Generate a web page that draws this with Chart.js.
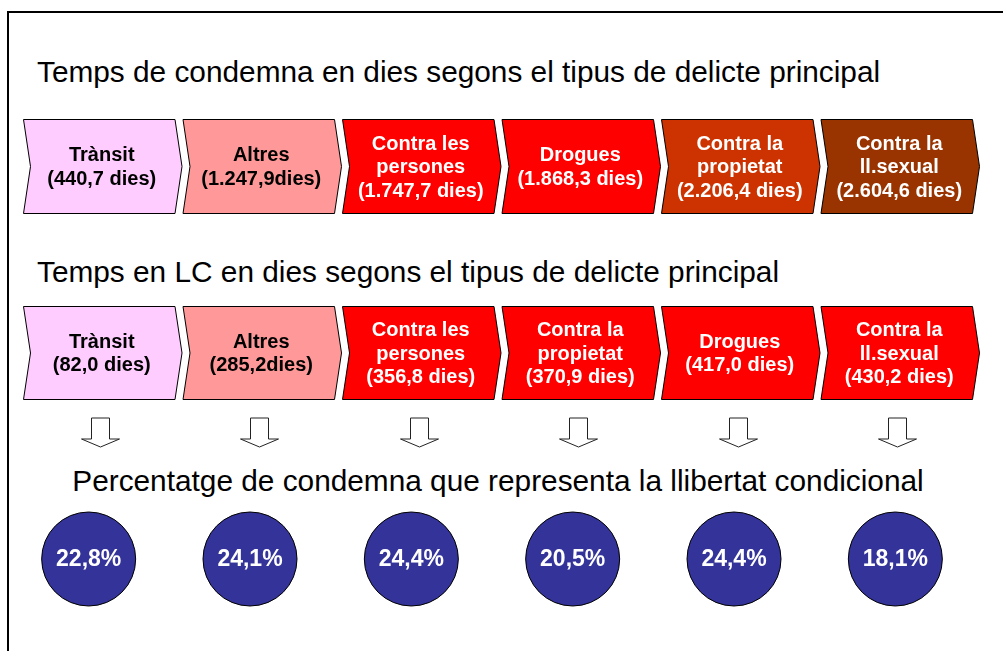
<!DOCTYPE html>
<html>
<head>
<meta charset="utf-8">
<script src="https://cdn.jsdelivr.net/npm/chart.js@4.4.1/dist/chart.umd.min.js"></script>
<style>
  html, body { margin: 0; padding: 0; background: #fff; }
  body { width: 1003px; height: 651px; position: relative; overflow: hidden; font-family: "Liberation Sans", Arial, sans-serif; }
  .frame { position: absolute; left: 7px; top: 11px; width: 1100px; height: 800px; border: 2px solid #000; }
  .title { position: absolute; font-size: 29.8px; line-height: 34px; color: #000; white-space: nowrap; }
  canvas { position: absolute; left: 0; }
</style>
</head>
<body>
<div class="frame"></div>
<div class="title" style="left:37px; top:55px;">Temps de condemna en dies segons el tipus de delicte principal</div>
<div class="title" style="left:37px; top:255px;">Temps en LC en dies segons el tipus de delicte principal</div>
<div class="title" style="left:0; width:996px; text-align:center; top:464px;">Percentatge de condemna que representa la llibertat condicional</div>
<canvas id="sentence" width="1003" height="105" style="top:114px"></canvas>
<canvas id="lc" width="1003" height="160" style="top:301px"></canvas>
<canvas id="pct" width="1003" height="110" style="top:504px"></canvas>
<script>
// sentence length (days) by main offence type
const sentenceCats = [['Trànsit'], ['Altres'], ['Contra les', 'persones'], ['Drogues'], ['Contra la', 'propietat'], ['Contra la', 'll.sexual']];
const sentenceDays = [440.7, 1247.9, 1747.7, 1868.3, 2206.4, 2604.6];
const sentenceUnit = [' dies', 'dies', ' dies', ' dies', ' dies', ' dies'];

// time on parole (LC) by main offence type
const lcCats = [['Trànsit'], ['Altres'], ['Contra les', 'persones'], ['Contra la', 'propietat'], ['Drogues'], ['Contra la', 'll.sexual']];
const lcDays = [82.0, 285.2, 356.8, 370.9, 417.0, 430.2];
const lcUnit = [' dies', 'dies', ' dies', ' dies', ' dies', ' dies'];

// share of the sentence spent on parole
const pctValues = [22.8, 24.1, 24.4, 20.5, 24.4, 18.1];

const sentenceColors = ['#FFCCFF', '#FF9999', '#FF0000', '#FF0000', '#CC3300', '#993300'];
const lcColors = ['#FFCCFF', '#FF9999', '#FF0000', '#FF0000', '#FF0000', '#FF0000'];
const textColors = ['#000', '#000', '#fff', '#fff', '#fff', '#fff'];

const FONT = '"Liberation Sans", Arial, sans-serif';

function fmt(v) {
  const parts = v.toFixed(1).split('.');
  return parts[0].replace(/\B(?=(\d{3})+(?!\d))/g, '.') + ',' + parts[1];
}

function chevronPlugin(colors, units, withArrows) {
  return {
    id: 'chevrons',
    afterDatasetsDraw(chart) {
      const ctx = chart.ctx;
      const area = chart.chartArea;
      const meta = chart.getDatasetMeta(0);
      const values = chart.data.datasets[0].data;
      const d = 7;
      const top = area.top + 0.5, bottom = area.bottom - 0.5, mid = (top + bottom) / 2;
      meta.data.forEach((bar, i) => {
        const L = bar.x - bar.width / 2 + 0.5;
        const tip = bar.x + bar.width / 2 - 0.5;
        const R = tip - d;
        ctx.save();
        ctx.beginPath();
        ctx.moveTo(L, top);
        ctx.lineTo(R, top);
        ctx.lineTo(tip, mid);
        ctx.lineTo(R, bottom);
        ctx.lineTo(L, bottom);
        ctx.lineTo(L + d, mid);
        ctx.closePath();
        ctx.fillStyle = colors[i];
        ctx.fill();
        ctx.lineWidth = 1;
        ctx.strokeStyle = '#000';
        ctx.stroke();

        const lines = chart.data.labels[i].concat(['(' + fmt(values[i]) + units[i] + ')']);
        const lh = 23.5;
        ctx.fillStyle = textColors[i];
        ctx.font = 'bold 20px ' + FONT;
        ctx.textAlign = 'center';
        ctx.textBaseline = 'middle';
        lines.forEach((t, k) => {
          ctx.fillText(t, bar.x - 1, mid + 1 + (k - (lines.length - 1) / 2) * lh);
        });

        if (withArrows) {
          const ax = Math.round(bar.x) - 2.5;
          const y0 = area.bottom + 18;
          ctx.beginPath();
          ctx.moveTo(ax - 9, y0);
          ctx.lineTo(ax + 9, y0);
          ctx.lineTo(ax + 9, y0 + 21);
          ctx.lineTo(ax + 19, y0 + 21);
          ctx.lineTo(ax, y0 + 29);
          ctx.lineTo(ax - 19, y0 + 21);
          ctx.lineTo(ax - 9, y0 + 21);
          ctx.closePath();
          ctx.fillStyle = '#fff';
          ctx.fill();
          ctx.strokeStyle = '#222';
          ctx.stroke();
        }
        ctx.restore();
      });
    }
  };
}

function rowChart(id, cats, days, colors, units, padBottom, withArrows) {
  return new Chart(document.getElementById(id), {
    type: 'bar',
    data: {
      labels: cats,
      datasets: [{
        data: days,
        backgroundColor: 'rgba(0,0,0,0)',
        categoryPercentage: 1,
        barPercentage: 1
      }]
    },
    options: {
      responsive: false,
      animation: false,
      devicePixelRatio: 1,
      layout: { padding: { left: 23, right: 23, top: 5, bottom: padBottom } },
      scales: {
        x: { display: false },
        y: { display: false, min: 0, max: Math.min(...days) }
      },
      plugins: { legend: { display: false }, tooltip: { enabled: false } }
    },
    plugins: [chevronPlugin(colors, units, withArrows)]
  });
}

rowChart('sentence', sentenceCats, sentenceDays, sentenceColors, sentenceUnit, 5, false);
rowChart('lc', lcCats, lcDays, lcColors, lcUnit, 61, true);

new Chart(document.getElementById('pct'), {
  type: 'line',
  data: {
    labels: lcCats,
    datasets: [{
      data: pctValues.map((p, i) => ({ x: i, y: 0, pct: p })),
      showLine: false,
      pointRadius: 47,
      pointHoverRadius: 47,
      pointBackgroundColor: '#333399',
      pointBorderColor: '#000',
      pointBorderWidth: 1,
      clip: false
    }]
  },
  options: {
    responsive: false,
    animation: false,
    devicePixelRatio: 1,
    layout: { autoPadding: false, padding: { left: 8, right: 27, top: 0, bottom: 0 } },
    scales: {
      x: { type: 'category', display: false, offset: true },
      y: { display: false, min: -1, max: 1 }
    },
    plugins: { legend: { display: false }, tooltip: { enabled: false } }
  },
  plugins: [{
    id: 'pctLabels',
    afterDatasetsDraw(chart) {
      const ctx = chart.ctx;
      const meta = chart.getDatasetMeta(0);
      ctx.save();
      ctx.fillStyle = '#fff';
      ctx.font = 'bold 23px ' + FONT;
      ctx.textAlign = 'center';
      ctx.textBaseline = 'middle';
      meta.data.forEach((pt, i) => {
        ctx.fillText(fmt(pctValues[i]) + '%', pt.x, pt.y + 1);
      });
      ctx.restore();
    }
  }]
});
</script>
</body>
</html>
